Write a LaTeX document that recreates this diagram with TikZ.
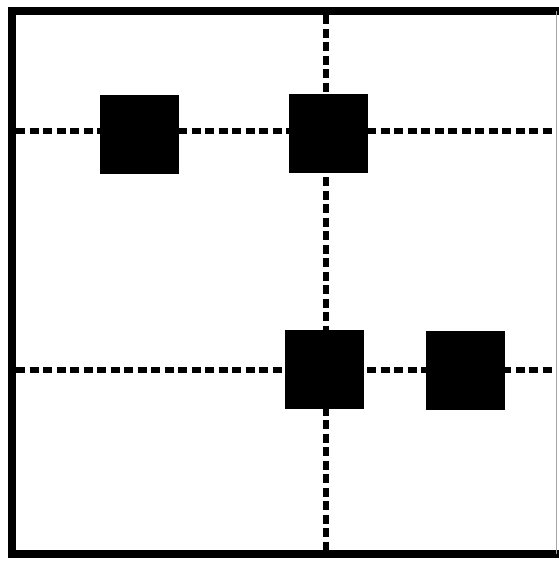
\documentclass[tikz,border=0pt]{standalone}
\begin{document}
\begin{tikzpicture}[x=1pt,y=-1pt,
  blk/.style={draw=black,fill=black,minimum width=78pt,minimum height=78pt,inner sep=0pt},
  dline/.style={line width=5.5pt,dash pattern=on 9pt off 4.5pt,black}]
\useasboundingbox (0,0) rectangle (558,562);
\fill[white] (0,0) rectangle (558,562);
% frame
\draw[line width=8pt,line cap=rect] (556,11) -- (12,11) -- (12,554) -- (556,554);
\draw[line width=1pt,gray!70] (556,11) -- (556,554);
% coordinates at frame
\coordinate (l1) at (16,131);
\coordinate (r1) at (556,131);
\coordinate (l2) at (16,370);
\coordinate (r2) at (556,370);
\coordinate (t) at (326,15);
\coordinate (b) at (326,550);
% dashed lines
\draw[dline] (l1) -- (r1);
\draw[dline] (l2) -- (r2);
\draw[dline] (t) -- (b);
% squares
\node[blk] (s1) at (139.5,134) {};
\node[blk] (s2) at (328.5,133) {};
\node[blk] (s3) at (324.5,369.5) {};
\node[blk] (s4) at (465.5,370.5) {};
\end{tikzpicture}
\end{document}
